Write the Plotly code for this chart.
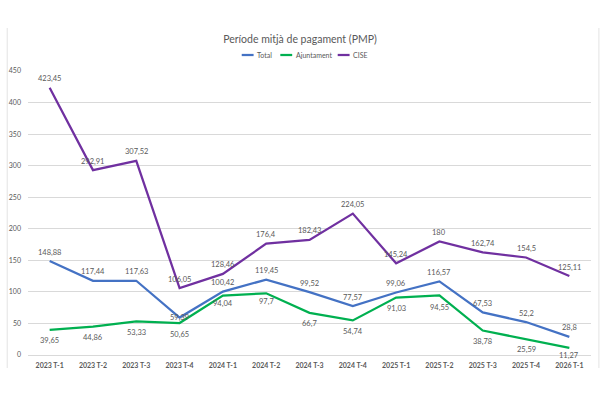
import plotly.graph_objects as go

categories = ["2023 T-1", "2023 T-2", "2023 T-3", "2023 T-4", "2024 T-1", "2024 T-2",
              "2024 T-3", "2024 T-4", "2025 T-1", "2025 T-2", "2025 T-3", "2025 T-4", "2026 T-1"]
total = [148.88, 117.44, 117.63, 59.39, 100.42, 119.45, 99.52, 77.57, 99.06, 116.57, 67.53, 52.2, 28.8]
ajuntament = [39.65, 44.86, 53.33, 50.65, 94.04, 97.7, 66.7, 54.74, 91.03, 94.55, 38.78, 25.59, 11.27]
cise = [423.45, 292.91, 307.52, 106.05, 128.46, 176.4, 182.43, 224.05, 145.24, 180, 162.74, 154.5, 125.11]
y_ticks = [0, 50, 100, 150, 200, 250, 300, 350, 400, 450]

# label vertical offsets (px), styling only
total_shift = [9, 9, 9, 0, 9, 9, 9, 9, 9, 9, 9, 9, 9]
ajunt_shift = [-11, -11, -11, -11, -8, -8, -11, -11, -11, -12, -11, -11, -8]
cise_shift = [9] * 13

W, H = 600, 399
L, R, T, B = 22, 9, 71, 44
PW, PH = W - L - R, H - T - B

def px_x(px):
    return (px - L) / PW

def px_y(py):
    return (H - B - py) / PH

GRAY = "#595959"
FONT = "Lato"
series = [
    ("Total", total, "#4472C4", total_shift),
    ("Ajuntament", ajuntament, "#00B050", ajunt_shift),
    ("CISE", cise, "#7030A0", cise_shift),
]

def fmt(v):
    return "{:g}".format(v).replace(".", ",")

fig = go.Figure()
annotations = []
for name, vals, color, shifts in series:
    fig.add_trace(go.Scatter(x=categories, y=vals, mode="lines", name=name,
                             line=dict(color=color, width=2.25), showlegend=False))
    for c, v, s in zip(categories, vals, shifts):
        annotations.append(dict(x=c, y=v, text=fmt(v), showarrow=False, yshift=s,
                                xanchor="center", yanchor="middle",
                                font=dict(family=FONT, size=7.5, color=GRAY)))

# manual compact legend
shapes = []
legend_items = [("Total", "#4472C4", 238, 250), ("Ajuntament", "#00B050", 277, 289), ("CISE", "#7030A0", 335, 347)]
ly = 55
for name, color, x0, x1 in legend_items:
    shapes.append(dict(type="line", xref="paper", yref="paper", x0=px_x(x0), x1=px_x(x1),
                       y0=px_y(ly), y1=px_y(ly), line=dict(color=color, width=2.25)))
    annotations.append(dict(xref="paper", yref="paper", x=px_x(x1 + 1.5), y=px_y(ly), text=name,
                            showarrow=False, xanchor="left", yanchor="middle",
                            font=dict(family=FONT, size=7, color=GRAY)))

# faint chart border sides
for bx in (1, 599):
    shapes.append(dict(type="line", xref="paper", yref="paper", x0=px_x(bx), x1=px_x(bx),
                       y0=px_y(28), y1=px_y(368), line=dict(color="#e3e3e3", width=1)))

fig.update_layout(
    width=W, height=H,
    margin=dict(l=L, r=R, t=T, b=B),
    paper_bgcolor="white", plot_bgcolor="white",
    title=dict(text="Període mitjà de pagament (PMP)", x=0.5, xanchor="center",
               y=1 - 39 / H, yanchor="middle",
               font=dict(family=FONT, size=10.5, color=GRAY)),
    xaxis=dict(type="category", range=[-0.5, 12.5], showgrid=False,
               showline=True, linecolor="#d9d9d9", linewidth=1,
               tickfont=dict(family=FONT, size=7, color=GRAY, weight="bold"),
               ticks="", ticklabelstandoff=4),
    yaxis=dict(range=[0, 450], tickvals=y_ticks, showgrid=True, gridcolor="#d9d9d9",
               gridwidth=1, zeroline=False, showline=False,
               tickfont=dict(family=FONT, size=7, color=GRAY),
               ticks="", ticklabelstandoff=6),
    annotations=annotations,
    shapes=shapes,
)

fig.write_html("out.html")
